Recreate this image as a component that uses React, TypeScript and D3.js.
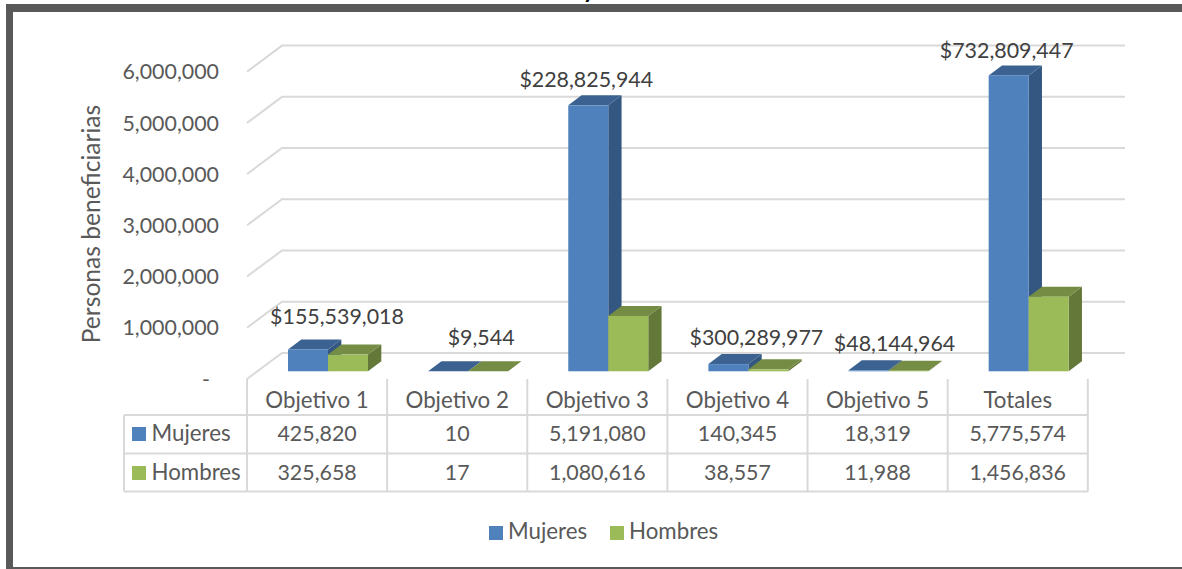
import React, { useEffect, useRef } from 'react';
import * as d3 from 'd3';

const categories = ['Objetivo 1', 'Objetivo 2', 'Objetivo 3', 'Objetivo 4', 'Objetivo 5', 'Totales'];
const mujeres = [425820, 10, 5191080, 140345, 18319, 5775574];
const hombres = [325658, 17, 1080616, 38557, 11988, 1456836];
const amounts = ['$155,539,018', '$9,544', '$228,825,944', '$300,289,977', '$48,144,964', '$732,809,447'];
const yTicks = [0, 1000000, 2000000, 3000000, 4000000, 5000000, 6000000];

// label offsets from the top of the Mujeres bar, placed by hand in the original
const labelNudgeX = [29, 33, -2, 28, 26, -2];
const labelNudgeY = [-25, -26.5, -18, -19, -19.5, -17.5];

const FONT = 'Lato, sans-serif';
const TEXT = '#595959';
const GRID = '#D9D9D9';
const NUM_SIZE = 21.4;
const WORD_SIZE = 22.3;

const series = [
  { name: 'Mujeres', values: mujeres, front: '#4F81BD', top: '#3B6290', side: '#335780' },
  { name: 'Hombres', values: hombres, front: '#9BBB59', top: '#748C43', side: '#64783A' },
];

const App = () => {
  const ref = useRef<SVGSVGElement | null>(null);

  useEffect(() => {
    const svg = d3.select(ref.current);
    svg.selectAll('*').remove();

    //frame, cropped on the right in the original
    const frame = svg.append('g').attr('fill', '#595959');
    frame.append('rect').attr('x', 6).attr('y', 4).attr('width', 7).attr('height', 565);
    frame.append('rect').attr('x', 6).attr('y', 4).attr('width', 1176).attr('height', 8);
    frame.append('rect').attr('x', 6).attr('y', 567).attr('width', 1176).attr('height', 2);

    //what is left of the cut off title
    svg.append('text')
      .attr('x', 589).attr('y', -2)
      .attr('text-anchor', 'middle')
      .attr('font-family', FONT).attr('font-size', 24).attr('font-weight', 700)
      .attr('fill', '#000')
      .text('y');

    //scales
    const yScale = d3.scaleLinear().domain([0, 6000000]).range([379, 71.6]);
    const xScale = d3.scaleBand().domain(categories).range([247, 1087.8]);
    const wallDx = 35;
    const wallDy = 26;
    const depthX = 13.3;
    const depthY = 10;
    const barBase = 7.7;
    const barGap = 41;
    const barWidth = 40;

    //3d wall gridlines
    const line = d3.line();
    const gridG = svg.append('g').attr('fill', 'none').attr('stroke', GRID).attr('stroke-width', 2);
    yTicks.forEach((t) => {
      const y = yScale(t);
      gridG.append('path').attr('d', line([
        [247, y],
        [247 + wallDx, y - wallDy],
        [1125, y - wallDy],
      ]));
    });

    //y axis
    const fmt = d3.format(',');
    const axisG = svg.append('g')
      .attr('font-family', FONT).attr('font-size', NUM_SIZE).attr('fill', TEXT).attr('text-anchor', 'end');
    yTicks.forEach((t) => {
      axisG.append('text')
        .attr('x', t === 0 ? 210 : 219)
        .attr('y', yScale(t))
        .attr('dy', '0.36em')
        .text(t === 0 ? '-' : fmt(t));
    });

    svg.append('text')
      .attr('transform', 'translate(100,224) rotate(-90)')
      .attr('text-anchor', 'middle')
      .attr('font-family', FONT).attr('font-size', 24.6).attr('fill', TEXT)
      .text('Personas beneficiarias');

    //bars
    const base = yScale(0) - barBase;
    const barTop = (v: number) => yScale(v) - barBase;
    const barsG = svg.append('g');
    categories.forEach((c, i) => {
      series.forEach((s, j) => {
        const x0 = xScale(c) + barGap + j * barWidth;
        const x1 = x0 + barWidth;
        const top = barTop(s.values[i]);
        barsG.append('path').attr('fill', s.side).attr('d', line([
          [x1, base], [x1 + depthX, base - depthY], [x1 + depthX, top - depthY], [x1, top],
        ]));
        barsG.append('path').attr('fill', s.top).attr('d', line([
          [x0, top], [x0 + depthX, top - depthY], [x1 + depthX, top - depthY], [x1, top],
        ]));
        barsG.append('rect')
          .attr('x', x0).attr('y', top)
          .attr('width', barWidth).attr('height', base - top)
          .attr('fill', s.front);
      });
    });

    //amount labels
    const labelG = svg.append('g')
      .attr('font-family', FONT).attr('font-size', NUM_SIZE).attr('fill', '#404040').attr('text-anchor', 'middle');
    amounts.forEach((a, i) => {
      labelG.append('text')
        .attr('x', xScale(categories[i]) + barGap + barWidth / 2 + labelNudgeX[i])
        .attr('y', barTop(mujeres[i]) + labelNudgeY[i])
        .text(a);
    });

    //data table
    const rowY = [415, 453.5, 491.5];
    const tableLeft = 124;
    const tableRight = xScale.range()[1];
    const tableG = svg.append('g').attr('stroke', GRID).attr('stroke-width', 2);
    rowY.forEach((y) => {
      tableG.append('line').attr('x1', tableLeft).attr('x2', tableRight).attr('y1', y).attr('y2', y);
    });
    [...categories.map((c) => xScale(c)), tableRight].forEach((x) => {
      tableG.append('line').attr('x1', x).attr('x2', x).attr('y1', 379).attr('y2', rowY[2]);
    });
    tableG.append('line').attr('x1', tableLeft).attr('x2', tableLeft).attr('y1', rowY[0]).attr('y2', rowY[2]);

    const cellG = svg.append('g')
      .attr('font-family', FONT).attr('fill', TEXT).attr('text-anchor', 'middle');
    categories.forEach((c, i) => {
      const cx = xScale(c) + xScale.bandwidth() / 2;
      cellG.append('text').attr('x', cx).attr('y', 408).attr('font-size', WORD_SIZE).text(c);
      cellG.append('text').attr('x', cx).attr('y', 441).attr('font-size', NUM_SIZE).text(fmt(mujeres[i]));
      cellG.append('text').attr('x', cx).attr('y', 480).attr('font-size', NUM_SIZE).text(fmt(hombres[i]));
    });
    series.forEach((s, j) => {
      const baseline = j === 0 ? 441 : 480;
      svg.append('rect')
        .attr('x', 132).attr('y', baseline - 14)
        .attr('width', 14).attr('height', 14)
        .attr('fill', s.front);
      svg.append('text')
        .attr('x', 151.5).attr('y', baseline)
        .attr('font-family', FONT).attr('font-size', WORD_SIZE).attr('fill', TEXT)
        .text(s.name);
    });

    //legend
    const legendX = [489, 610];
    series.forEach((s, j) => {
      svg.append('rect')
        .attr('x', legendX[j]).attr('y', 526)
        .attr('width', 14).attr('height', 14)
        .attr('fill', s.front);
      svg.append('text')
        .attr('x', legendX[j] + 19).attr('y', 539)
        .attr('font-family', FONT).attr('font-size', WORD_SIZE).attr('fill', TEXT)
        .text(s.name);
    });
  }, []);

  return (
    <svg
      ref={ref}
      width={1182}
      height={569}
      style={{ position: 'absolute', left: 0, top: 0, background: '#fff', display: 'block' }}
    />
  );
};

export default App;
